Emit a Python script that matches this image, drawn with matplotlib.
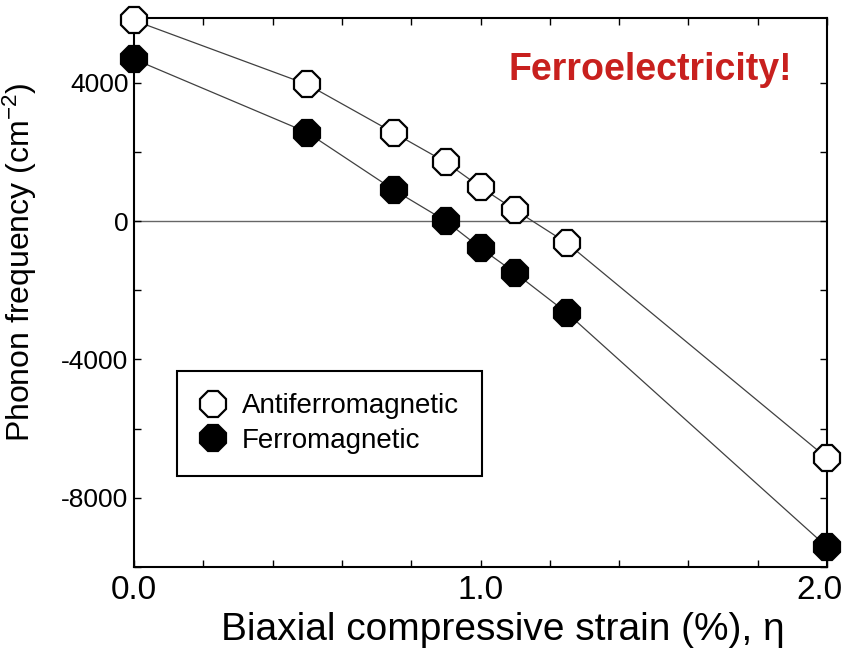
import numpy as np
import matplotlib
matplotlib.use("Agg")
import matplotlib.pyplot as plt
from matplotlib.transforms import ScaledTranslation

plt.rcParams['font.family'] = ['Liberation Sans', 'DejaVu Sans']
plt.rcParams['mathtext.fontset'] = 'custom'
plt.rcParams['mathtext.rm'] = 'Liberation Sans'
plt.rcParams['mathtext.it'] = 'Liberation Sans'
plt.rcParams['axes.unicode_minus'] = False

# strain (%) and phonon frequency (cm-2)
strain = [0.0, 0.5, 0.75, 0.9, 1.0, 1.1, 1.25, 2.0]
afm = [5800, 3950, 2550, 1700, 980, 320, -640, -6850]
fm = [4680, 2560, 900, 0, -780, -1500, -2660, -9420]

labels = ["Antiferromagnetic", "Ferromagnetic"]

fig = plt.figure(figsize=(8.47, 6.5), dpi=100)
ax = fig.add_axes([134 / 847, 83 / 650, 693 / 847, 549 / 650])

ax.axhline(0, color='0.4', lw=1.0, zorder=1)

ax.plot(strain, afm, color='0.25', lw=0.9, zorder=2)
ax.plot(strain, fm, color='0.25', lw=0.9, zorder=2)
ax.plot(strain, afm, ls='none', marker='8', ms=20, mfc='white', mec='black',
        mew=1.6, label=labels[0], clip_on=False, zorder=3)
ax.plot(strain, fm, ls='none', marker='8', ms=20, mfc='black', mec='black',
        mew=1.6, label=labels[1], clip_on=False, zorder=3)

ax.set_xlim(0, 2.0)
ax.set_ylim(-10000, 5870)
ax.set_xticks([0, 1, 2])
ax.set_xticklabels(["0.0", "1.0", "2.0"])
ax.set_xticks(np.arange(0, 2.01, 0.2), minor=True)
ax.set_yticks([4000, 0, -4000, -8000])
ax.set_yticks(np.arange(-10000, 6000, 2000), minor=True)

ax.tick_params(which='both', direction='in', top=True, right=True,
               length=5, width=1.0)
ax.tick_params(axis='x', labelsize=24, pad=6)
ax.tick_params(axis='y', labelsize=19, pad=4)
for s in ax.spines.values():
    s.set_linewidth(1.5)

# last x label sits a bit to the left, like in the original
lastlab = ax.get_xticklabels()[-1]
lastlab.set_transform(lastlab.get_transform() + ScaledTranslation(-8 / 100, 0, fig.dpi_scale_trans))

ax.set_xlabel("Biaxial compressive strain (%), η", fontsize=28)
ax.xaxis.set_label_coords(0.532, -0.082)
ax.set_ylabel("Phonon frequency (cm$^{-2}$)", fontsize=23)
ax.yaxis.set_label_coords(-0.137, 0.555)

ax.text(0.540, 0.887, "Ferroelectricity!", transform=ax.transAxes,
        color='#C8201E', fontsize=27, fontweight='bold', va='baseline')

leg = ax.legend(loc='upper left', bbox_to_anchor=(0.062, 0.357),
                fontsize=20, frameon=True, fancybox=False, edgecolor='black',
                framealpha=1, borderpad=0.8, labelspacing=0.3,
                handlelength=1.0, handletextpad=0.55, borderaxespad=0)
leg.get_frame().set_linewidth(1.5)

fig.savefig("out.png", dpi=100)
